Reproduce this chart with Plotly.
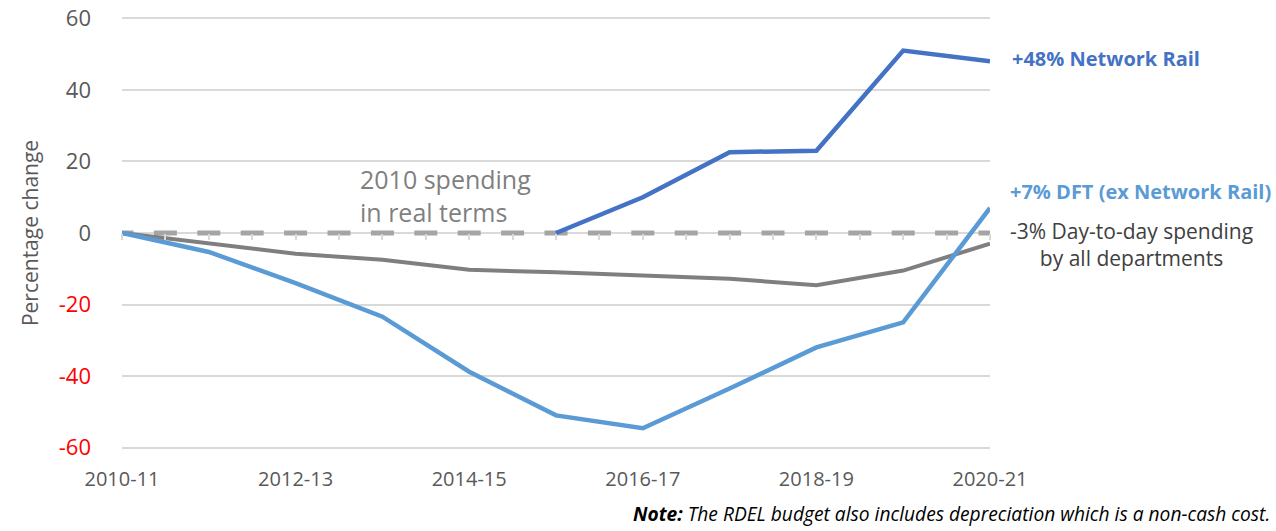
import plotly.graph_objects as go

years = ["2010-11", "2011-12", "2012-13", "2013-14", "2014-15", "2015-16",
         "2016-17", "2017-18", "2018-19", "2019-20", "2020-21"]
tick_labels = ["2010-11", "2012-13", "2014-15", "2016-17", "2018-19", "2020-21"]
y_ticks = [-60, -40, -20, 0, 20, 40, 60]

dft_ex_nr = [0, -5.3, -14, -23.4, -38.8, -51, -54.6, -43.5, -32, -25, 7]
all_depts = [0, -3, -5.8, -7.5, -10.3, -11, -12, -12.8, -14.6, -10.5, -3]
network_rail_years = years[5:]
network_rail = [0, 10, 22.6, 23, 51, 48]
baseline = [0] * len(years)

FONT = "Open Sans"
fig = go.Figure()

fig.add_trace(go.Scatter(x=years, y=baseline, mode="lines",
                         line=dict(color="#A5A5A5", width=5, dash="11.5px,20.4px,11.5px,0px"),
                         hoverinfo="skip", showlegend=False))
fig.add_trace(go.Scatter(x=years, y=all_depts, mode="lines",
                         line=dict(color="#7F7F7F", width=4), showlegend=False))
fig.add_trace(go.Scatter(x=years, y=dft_ex_nr, mode="lines",
                         line=dict(color="#5B9BD5", width=4.5), showlegend=False))
fig.add_trace(go.Scatter(x=network_rail_years, y=network_rail, mode="lines",
                         line=dict(color="#4472C4", width=4.5), showlegend=False))

tick_text = [f"<span style='color:{'red' if v < 0 else '#595959'}'>{v}</span>" for v in y_ticks]

fig.update_layout(
    width=1276, height=531,
    margin=dict(l=122, r=286, t=16.57, b=81.57, autoexpand=False),
    plot_bgcolor="white", paper_bgcolor="white",
    font=dict(family=FONT, color="#595959", size=19),
    xaxis=dict(type="category", range=[0, 10], tickmode="array",
               tickvals=tick_labels, ticktext=tick_labels, automargin=False,
               showgrid=False, zeroline=False, showline=False, ticks="",
               tickfont=dict(size=20, color="#595959"), ticklabelstandoff=16),
    yaxis=dict(range=[-60.4, 60.4], tickvals=y_ticks, ticktext=tick_text, automargin=False,
               showgrid=True, gridcolor="#D9D9D9", gridwidth=1.5,
               zeroline=False, showline=False, ticks="", ticklabeloverflow="allow",
               tickfont=dict(size=22), ticklabelstandoff=30,
               title=dict(text="Percentage change", font=dict(size=21, color="#595959"),
                          standoff=14)),
    xaxis2=dict(overlaying="x", anchor="free", position=0.5, side="bottom",
                range=[0, 10], tickmode="linear", tick0=0, dtick=0.5, automargin=False,
                showticklabels=False, ticks="outside", ticklen=6, tickcolor="#D9D9D9",
                tickwidth=1.5, showgrid=False, zeroline=False, showline=False),
)
fig.add_trace(go.Scatter(x=[0, 10], y=[None, None], xaxis="x2", showlegend=False,
                         hoverinfo="skip"))

fig.add_annotation(x=1, y=48 + 0.8, xref="paper", yref="y", xanchor="left", xshift=20,
                   text="<b>+48% Network Rail</b>", showarrow=False,
                   font=dict(size=20, color="#4472C4", family=FONT))
fig.add_annotation(x=1, y=11.5, xref="paper", yref="y", xanchor="left", xshift=18,
                   text="<b>+7% DFT (ex Network Rail)</b>", showarrow=False,
                   font=dict(size=20, color="#5B9BD5", family=FONT))
fig.add_annotation(x=1, y=-3.3, xref="paper", yref="y", xanchor="left", xshift=18,
                   text="-3% Day-to-day spending<br>by all departments", showarrow=False,
                   align="center", font=dict(size=21, color="#404040", family=FONT))
fig.add_annotation(x="2012-13", y=10.5, xref="x", yref="y", xanchor="left",
                   xshift=62, text="2010 spending<br>in real terms", showarrow=False,
                   align="left", font=dict(size=25, color="#7F7F7F", family=FONT))
fig.add_annotation(x=1, y=0, xref="paper", yref="paper", xanchor="right", yanchor="bottom",
                   xshift=282, yshift=-80,
                   text="<b><i>Note:</i></b><i> The RDEL budget also includes depreciation which is a non-cash cost.</i>",
                   showarrow=False, font=dict(size=19.2, color="#000000", family=FONT))

fig.write_html("out.html", config={"displayModeBar": False},
               post_script="document.body.style.margin='0';")
